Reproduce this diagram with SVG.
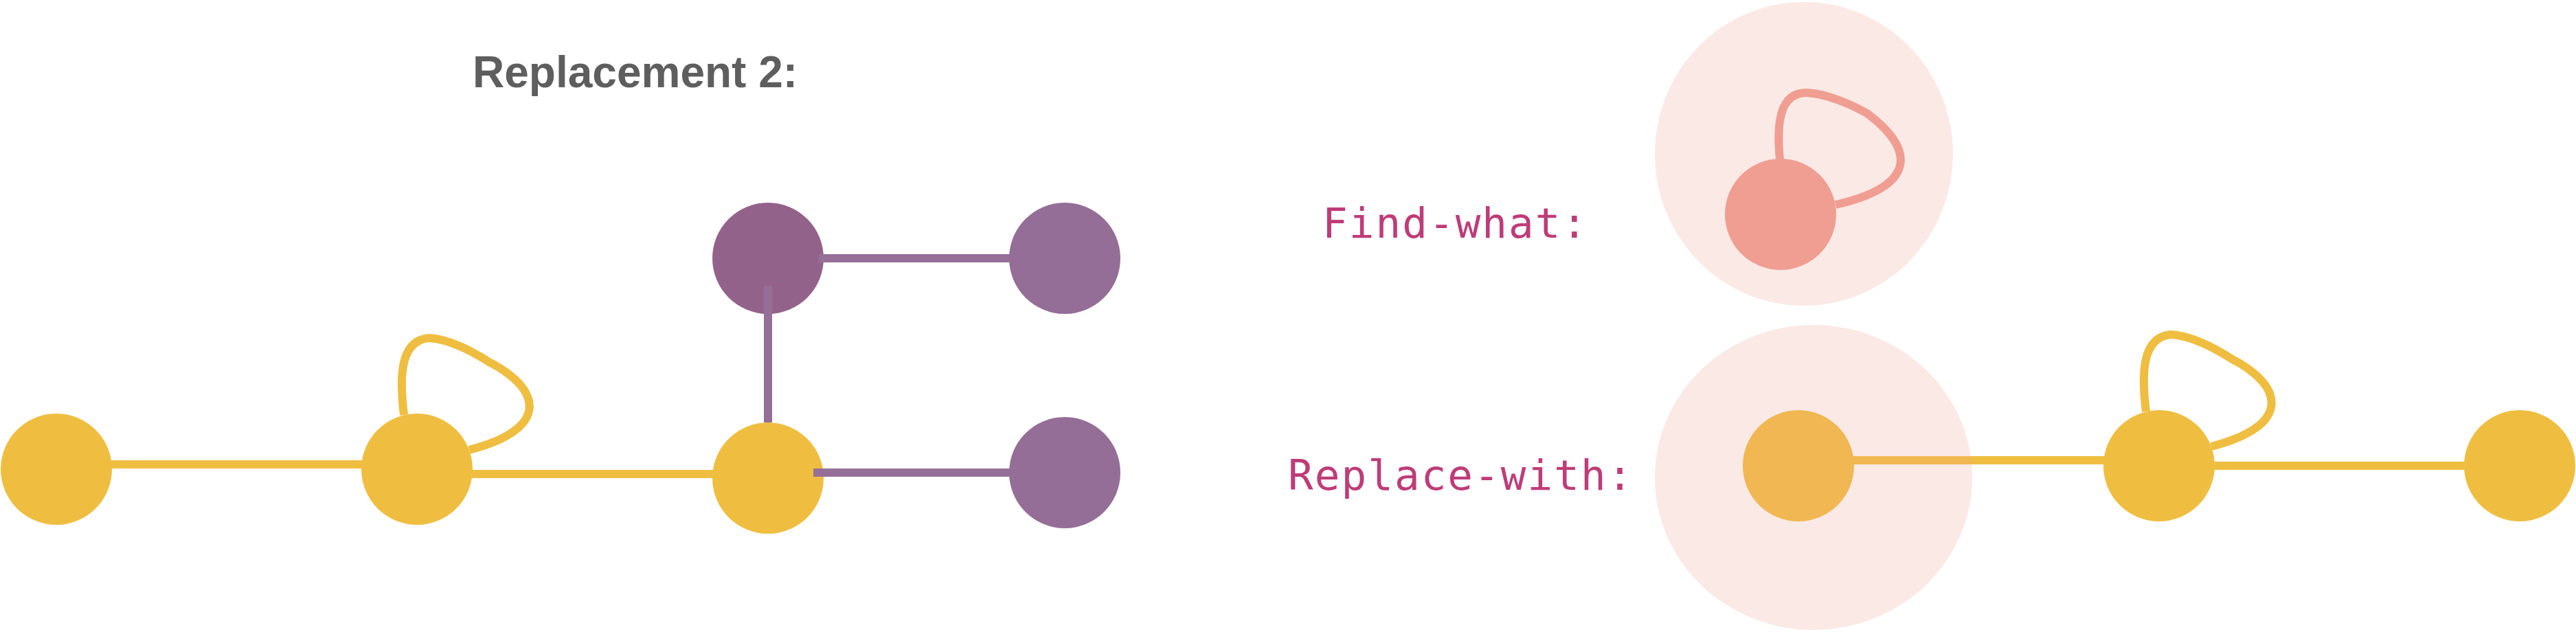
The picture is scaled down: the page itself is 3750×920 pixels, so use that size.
<svg xmlns="http://www.w3.org/2000/svg" width="3750" height="920" viewBox="0 0 3750 920">
<style>
.title{font-family:"Liberation Sans",Arial,sans-serif;font-weight:bold;font-size:64px;fill:#5E5E5E}
.lbl{font-family:"DejaVu Sans Mono","Liberation Mono",monospace;font-size:61px;letter-spacing:2px;fill:#BE3C78}
.ye{stroke:#EFBE41;stroke-width:12;fill:none}
.pu{stroke:#956F97;stroke-width:12;fill:none}
.sa{stroke:#F09E92;stroke-width:12;fill:none}
.or{stroke:#F0B752;stroke-width:12;fill:none}
.ny{fill:#EFBE41}
.np{fill:#946E96}
.npd{fill:#93628B}
.ns{fill:#F09E92}
.no{fill:#F0B752}
.pale{fill:#FBE9E6}
</style>
<defs>
<clipPath id="repClip"><ellipse cx="2640" cy="695" rx="231" ry="222"/></clipPath>
</defs>
<text class="title" x="688" y="127">Replacement 2:</text>
<text class="lbl" x="1925" y="346">Find-what:</text>
<text class="lbl" x="1875" y="713">Replace-with:</text>

<g id="find-region"><ellipse class="pale" cx="2626" cy="224" rx="217" ry="221"/></g>
<g id="replace-region"><ellipse class="pale" cx="2640" cy="695" rx="231" ry="222"/></g>

<g id="connectors">
<line class="ye" x1="82" y1="676" x2="607" y2="676"/>
<line class="ye" x1="607" y1="690" x2="1118" y2="690"/>
<path class="ye" d="M588 604 C582 555 580 495 625 492 C655 494 690 513 712 527 C790 567 800 625 683 655"/>
<path class="sa" d="M2591 232 C2586 180 2590 133 2632 135 C2660 137 2695 152 2718 165 C2785 215 2795 270 2672 298"/>
<line class="ye" x1="2618" y1="670" x2="3143" y2="670"/>
<line class="or" x1="2618" y1="670" x2="3143" y2="670" clip-path="url(#repClip)"/>
<line class="ye" x1="3143" y1="678" x2="3668" y2="678"/>
<path class="ye" d="M3124 599 C3118 550 3116 490 3161 487 C3191 489 3226 508 3248 522 C3326 562 3336 620 3219 650"/>
</g>

<g id="node-a"><circle class="ny" cx="82" cy="683" r="81"/></g>
<g id="node-b"><circle class="ny" cx="607" cy="683" r="81"/></g>
<g id="node-c"><circle class="ny" cx="1118" cy="696" r="81"/></g>
<g id="node-d"><circle class="npd" cx="1118" cy="376" r="81"/></g>
<g id="purple-connectors">
<line class="pu" x1="1118" y1="416" x2="1118" y2="615"/>
<line class="pu" x1="1192" y1="376" x2="1490" y2="376"/>
<line class="pu" x1="1184" y1="688" x2="1490" y2="688"/>
</g>
<g id="node-e"><circle class="np" cx="1550" cy="376" r="81"/></g>
<g id="node-f"><circle class="np" cx="1550" cy="688" r="81"/></g>

<g id="find-node"><circle class="ns" cx="2592" cy="312" r="81"/></g>
<g id="rep-node-1"><circle class="no" cx="2618" cy="678" r="81"/></g>
<g id="rep-node-2"><circle class="ny" cx="3143" cy="678" r="81"/></g>
<g id="rep-node-3"><circle class="ny" cx="3668" cy="678" r="81"/></g>
</svg>
